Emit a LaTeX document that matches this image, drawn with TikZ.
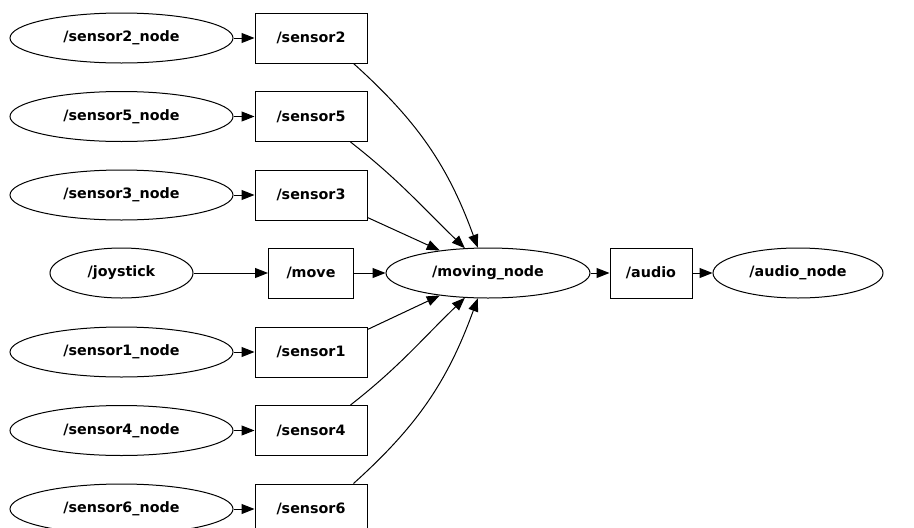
\documentclass[tikz,border=0pt]{standalone}
\usepackage{fontspec}
\setmainfont{DejaVu Sans}
\usetikzlibrary{shapes.geometric,arrows.meta}
\begin{document}
\begin{tikzpicture}[x=1pt,y=-1pt,
  every node/.style={font=\bfseries\fontsize{14.3}{16}\selectfont},
  ell/.style={draw,ellipse,inner sep=0pt,line width=1pt,minimum height=50pt},
  box/.style={draw,rectangle,inner sep=0pt,line width=1pt,minimum height=50pt},
  arr/.style={line width=1pt,-{Triangle[length=13pt,width=10pt]}}]
\useasboundingbox (0,0) rectangle (914,528);
% left ellipses
\node[ell,minimum width=223pt] (n2) at (121.5,38) {/sensor2\_node};
\node[ell,minimum width=223pt] (n5) at (121.5,116.5) {/sensor5\_node};
\node[ell,minimum width=223pt] (n3) at (121.5,195) {/sensor3\_node};
\node[ell,minimum width=143pt] (nj) at (121.5,273) {/joystick};
\node[ell,minimum width=223pt] (n1) at (121.5,352) {/sensor1\_node};
\node[ell,minimum width=223pt] (n4) at (121.5,430.5) {/sensor4\_node};
\node[ell,minimum width=223pt] (n6) at (121.5,509) {/sensor6\_node};
% boxes
\node[box,minimum width=112pt] (s2) at (311,38) {/sensor2};
\node[box,minimum width=112pt] (s5) at (311,116.5) {/sensor5};
\node[box,minimum width=112pt] (s3) at (311,195) {/sensor3};
\node[box,minimum width=85pt] (mo) at (311,273) {/move};
\node[box,minimum width=112pt] (s1) at (311,352) {/sensor1};
\node[box,minimum width=112pt] (s4) at (311,430.5) {/sensor4};
\node[box,minimum width=112pt] (s6) at (311,509) {/sensor6};
% center
\node[ell,minimum width=204pt] (mv) at (488,273) {/moving\_node};
\node[box,minimum width=82pt] (au) at (651,273) {/audio};
\node[ell,minimum width=170pt] (an) at (798,273) {/audio\_node};
% edges
\draw[arr] (n2) -- (s2);
\draw[arr] (n5) -- (s5);
\draw[arr] (n3) -- (s3);
\draw[arr] (nj) -- (mo);
\draw[arr] (n1) -- (s1);
\draw[arr] (n4) -- (s4);
\draw[arr] (n6) -- (s6);
\draw[arr] (mo) -- (mv);
\draw[arr] (mv) -- (au);
\draw[arr] (au) -- (an);
\draw[arr] ([xshift=-14pt]s2.south east) to[out=-42,in=110] (mv.112);
\draw[arr] ([xshift=-17pt]s5.south east) to[out=-38,in=136] (mv.133);
\draw[arr] ([yshift=3pt]s3.south east) -- (mv.155);
\draw[arr] ([yshift=-3pt]s1.north east) -- (mv.205);
\draw[arr] ([xshift=-17pt]s4.north east) to[out=38,in=-136] (mv.227);
\draw[arr] ([xshift=-14pt]s6.north east) to[out=42,in=-110] (mv.248);
\end{tikzpicture}
\end{document}
